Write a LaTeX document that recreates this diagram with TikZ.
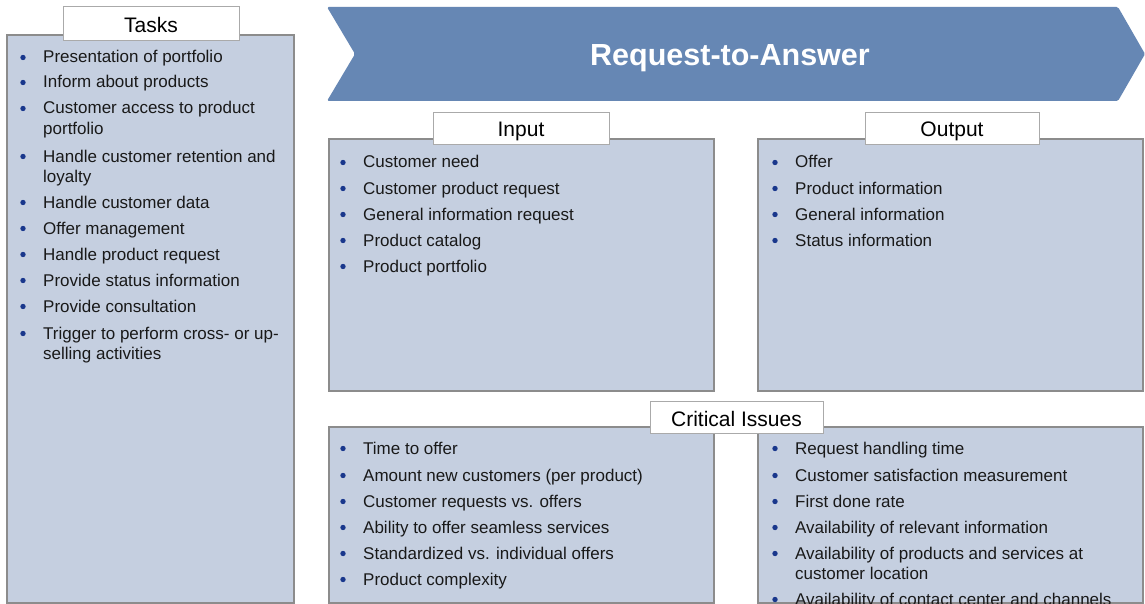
\documentclass[tikz,border=0pt]{standalone}
\usepackage{fontspec}
\setmainfont{Liberation Sans}
\definecolor{boxfill}{RGB}{197,207,224}
\definecolor{boxline}{RGB}{140,140,140}
\definecolor{lblline}{RGB}{170,170,170}
\definecolor{banner}{RGB}{102,135,180}
\definecolor{bulletc}{RGB}{25,55,140}
\tikzset{
  panel/.style={fill=boxfill, draw=boxline, line width=1.4pt},
  lbl/.style={fill=white, draw=lblline, line width=1pt},
  lbltext/.style={font=\fontsize{21}{24}\selectfont, text=black},
  bdot/.style={circle, fill=bulletc, inner sep=0pt, minimum size=5.4pt},
  itm/.style={inner sep=0pt, align=left, font=\fontsize{17}{20.5}\selectfont, text=black!90},
}
% #1 extra offset of the last line, #2 name, #3 x, #4 first baseline, #5 text
\newcommand\bitem[5][0]{%
  \node[bdot] (#2b) at (#3-20,#4-5.5) {};
  \node[itm, anchor=base west] (#2) at (#3,#4+#1) {#5};}
\begin{document}
\begin{tikzpicture}[x=1pt,y=-1pt]
\clip (0,0) rectangle (1145,604);
\fill[white] (0,0) rectangle (1145,604);
% banner
\fill[banner, rounded corners=1.5pt] (327,7) -- (1118,7) -- (1145,54) -- (1118,101) -- (327,101) -- (355,54) -- cycle;
\node[text=white, font=\bfseries\fontsize{30.5}{34}\selectfont] (title) at (730,58) {Request-to-Answer};
% panels
\draw[panel] (7,35) rectangle (294,603);
\draw[panel] (329,139) rectangle (714,391);
\draw[panel] (758,139) rectangle (1143,391);
\draw[panel] (329,427) rectangle (714,603);
\draw[panel] (758,427) rectangle (1143,603);
% labels
\path[lbl] (63,7) rectangle (239,41);
\node[lbltext] (ltasks) at (151,24.5) {Tasks};
\path[lbl] (433,113) rectangle (609,145);
\node[lbltext] (linput) at (521,131.5) {Input};
\path[lbl] (865,113) rectangle (1039,145);
\node[lbltext] (loutput) at (952,131) {Output};
\path[lbl] (650,401) rectangle (823,433);
\node[lbltext] (lcrit) at (736.5,419) {Critical Issues};
% tasks
\bitem{t1}{43}{63}{Presentation of portfolio}
\bitem{t2}{43}{88}{Inform about products}
\bitem[20.5]{t3}{43}{114}{Customer access to product\\portfolio}
\bitem[20.5]{t4}{43}{162}{Handle customer retention and\\loyalty}
\bitem{t5}{43}{208}{Handle customer data}
\bitem{t6}{43}{234}{Offer management}
\bitem{t7}{43}{260}{Handle product request}
\bitem{t8}{43}{286}{Provide status information}
\bitem{t9}{43}{312}{Provide consultation}
\bitem[20.5]{t10}{43}{339}{Trigger to perform cross- or up-\\selling activities}
% input
\bitem{i1}{363}{168}{Customer need}
\bitem{i2}{363}{194}{Customer product request}
\bitem{i3}{363}{220}{General information request}
\bitem{i4}{363}{246}{Product catalog}
\bitem{i5}{363}{272}{Product portfolio}
% output
\bitem{o1}{795}{168}{Offer}
\bitem{o2}{795}{194}{Product information}
\bitem{o3}{795}{220}{General information}
\bitem{o4}{795}{246}{Status information}
% critical left
\bitem{c1}{363}{454}{Time to offer}
\bitem{c2}{363}{481}{Amount new customers (per product)}
\bitem{c3}{363}{507}{Customer requests vs. offers}
\bitem{c4}{363}{533}{Ability to offer seamless services}
\bitem{c5}{363}{559}{Standardized vs. individual offers}
\bitem{c6}{363}{585}{Product complexity}
% critical right
\bitem{d1}{795}{454}{Request handling time}
\bitem{d2}{795}{481}{Customer satisfaction measurement}
\bitem{d3}{795}{507}{First done rate}
\bitem{d4}{795}{533}{Availability of relevant information}
\bitem[20.5]{d5}{795}{559}{Availability of products and services at\\customer location}
\bitem{d6}{795}{605}{Availability of contact center and channels}
\end{tikzpicture}
\end{document}
